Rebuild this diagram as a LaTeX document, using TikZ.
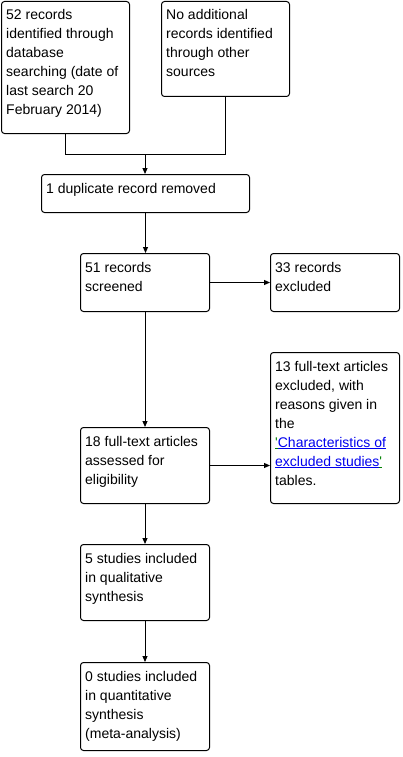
\documentclass[tikz,border=0pt]{standalone}
\usepackage{fontspec}
\newfontfamily\lsans{Liberation Sans}
\usetikzlibrary{arrows.meta}
\definecolor{linkblue}{HTML}{0000EE}
\definecolor{linkgreen}{HTML}{008000}
\newcommand{\txt}[2]{\parbox[t]{#1pt}{\raggedright #2}}
\begin{document}
\begin{tikzpicture}[x=1pt,y=-1pt,
  every node/.style={font=\lsans\fontsize{14}{19}\selectfont},
  boxnode/.style={draw, line width=1pt, rounded corners=3pt, anchor=north west, inner sep=0pt},
  lbl/.style={anchor=base west, inner sep=0pt},
  conn/.style={line width=1pt},
  arr/.style={line width=1pt, -{Triangle[length=6pt,width=5pt]}}]
\useasboundingbox (0,0) rectangle (402,757);
% boxes
\node[boxnode, minimum width=128pt, minimum height=132pt] (A) at (1,1) {};
\node[boxnode, minimum width=128pt, minimum height=95pt] (B) at (161,1) {};
\node[boxnode, minimum width=208pt, minimum height=38pt] (C) at (41,174) {};
\node[boxnode, minimum width=129pt, minimum height=58pt] (D) at (80,253) {};
\node[boxnode, minimum width=129pt, minimum height=58pt] (E) at (270,253) {};
\node[boxnode, minimum width=129pt, minimum height=76pt] (F) at (80,427) {};
\node[boxnode, minimum width=129pt, minimum height=151pt] (G) at (270,352) {};
\node[boxnode, minimum width=129pt, minimum height=76pt] (H) at (80,544) {};
\node[boxnode, minimum width=129pt, minimum height=88pt] (I) at (80,662) {};
% texts
\node[lbl] (tA) at ([shift={(5,19)}]A.north west) {\txt{125}{52 records\\identified through\\database\\searching (date of\\last search 20\\February 2014)}};
\node[lbl] (tB) at ([shift={(5,19)}]B.north west) {\txt{125}{No additional\\records identified\\through other\\sources}};
\node[lbl] (tC) at ([shift={(5,19)}]C.north west) {\txt{200}{1 duplicate record removed}};
\node[lbl] (tD) at ([shift={(5,19)}]D.north west) {\txt{125}{51 records\\screened}};
\node[lbl] (tE) at ([shift={(5,19)}]E.north west) {\txt{125}{33 records\\excluded}};
\node[lbl] (tF) at ([shift={(5,19)}]F.north west) {\txt{125}{18 full-text articles\\assessed for\\eligibility}};
\node[lbl] (tG) at ([shift={(5,19)}]G.north west) {\txt{125}{13 full-text articles\\excluded, with\\reasons given in\\the\\\textcolor{linkgreen}{\underline{'}}\textcolor{linkblue}{\underline{Characteristics of}}\\\textcolor{linkblue}{\underline{excluded studies}}\textcolor{linkgreen}{\underline{'}}\\tables.}};
\node[lbl] (tH) at ([shift={(5,19)}]H.north west) {\txt{125}{5 studies included\\in qualitative\\synthesis}};
\node[lbl] (tI) at ([shift={(5,19)}]I.north west) {\txt{125}{0 studies included\\in quantitative\\synthesis\\(meta-analysis)}};
% connectors
\coordinate (m) at (145,154);
\draw[conn] (A.south) |- (m);
\draw[conn] (B.south) |- (m);
\draw[arr] (m) -- (m |- C.north);
\draw[arr] (C.south) -- (C.south |- D.north);
\draw[arr] (D.east) -- (D.east -| E.west);
\draw[arr] (D.south) -- (F.north);
\draw[arr] (F.east) -- (F.east -| G.west);
\draw[arr] (F.south) -- (H.north);
\draw[arr] (H.south) -- (I.north);
\end{tikzpicture}
\end{document}
